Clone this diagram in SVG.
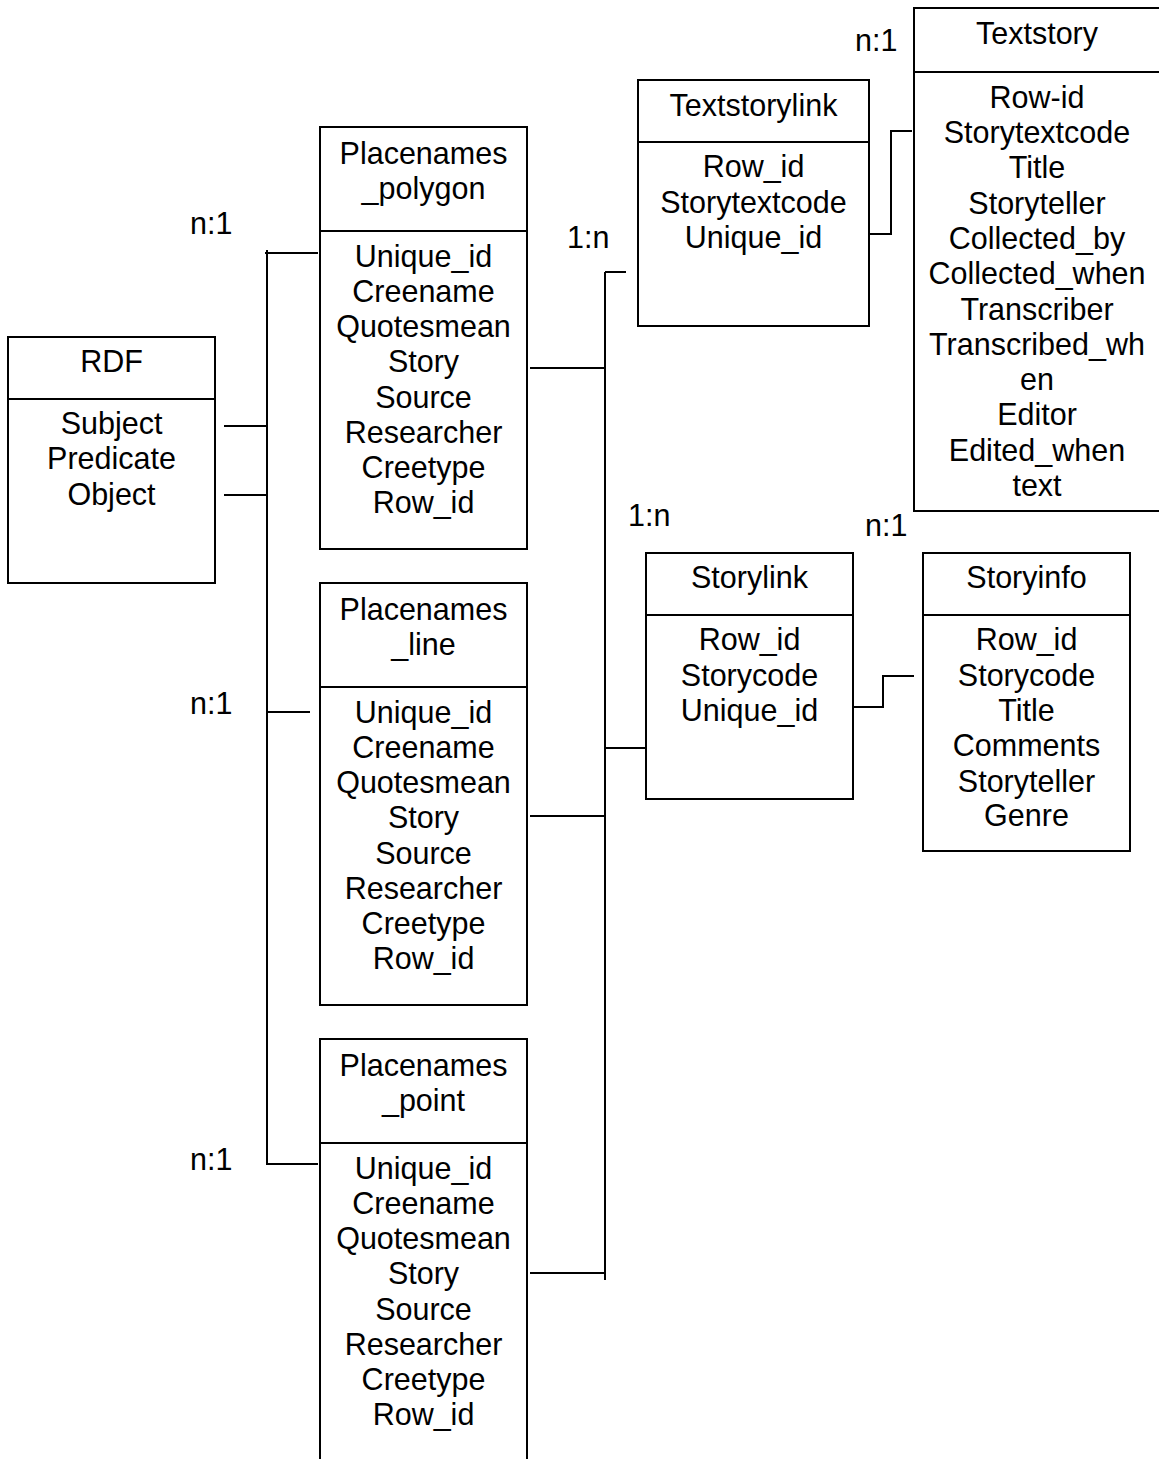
<svg xmlns="http://www.w3.org/2000/svg" width="1159" height="1459" viewBox="0 0 1159 1459">
<style>
.box{fill:#fff;stroke:#000;stroke-width:2}
.div{stroke:#000;stroke-width:2}
.t{font-family:"Liberation Sans",Arial,sans-serif;font-size:30.5px;fill:#000;text-anchor:middle}
.l{font-family:"Liberation Sans",Arial,sans-serif;font-size:30.5px;fill:#000}
.c{fill:none;stroke:#000;stroke-width:2}
</style>
<rect width="1159" height="1459" fill="#fff"/>
<g id="connectors">
<path class="c" d="M267 250V1165"/>
<path class="c" d="M265 253H318"/>
<path class="c" d="M224 426H267"/>
<path class="c" d="M224 495H267"/>
<path class="c" d="M267 712H310"/>
<path class="c" d="M267 1164H318"/>
<path class="c" d="M605 272V1280"/>
<path class="c" d="M605 272H626"/>
<path class="c" d="M530 368H605"/>
<path class="c" d="M605 748H647"/>
<path class="c" d="M530 816H605"/>
<path class="c" d="M530 1273H605"/>
<path class="c" d="M869 234H891V131H912"/>
<path class="c" d="M853 707H883V676H914"/>
</g>
<g id="labels">
<text class="l" x="190" y="234">n:1</text>
<text class="l" x="190" y="714">n:1</text>
<text class="l" x="190" y="1170">n:1</text>
<text class="l" x="567" y="248">1:n</text>
<text class="l" x="628" y="526">1:n</text>
<text class="l" x="855" y="51">n:1</text>
<text class="l" x="865" y="536">n:1</text>
</g>
<g id="rdf">
<rect class="box" x="8" y="337" width="207" height="246"/>
<line class="div" x1="8" y1="399" x2="215" y2="399"/>
<text class="t" x="111.5" y="372">RDF</text>
<text class="t" x="111.5" y="434">Subject</text>
<text class="t" x="111.5" y="469">Predicate</text>
<text class="t" x="111.5" y="505">Object</text>
</g>
<g id="placenames_polygon">
<rect class="box" x="320" y="127" width="207" height="422"/>
<line class="div" x1="320" y1="231" x2="527" y2="231"/>
<text class="t" x="423.5" y="164">Placenames</text>
<text class="t" x="423.5" y="199">_polygon</text>
<text class="t" x="423.5" y="267">Unique_id</text>
<text class="t" x="423.5" y="302">Creename</text>
<text class="t" x="423.5" y="337">Quotesmean</text>
<text class="t" x="423.5" y="372">Story</text>
<text class="t" x="423.5" y="408">Source</text>
<text class="t" x="423.5" y="443">Researcher</text>
<text class="t" x="423.5" y="478">Creetype</text>
<text class="t" x="423.5" y="513">Row_id</text>
</g>
<g id="placenames_line">
<rect class="box" x="320" y="583" width="207" height="422"/>
<line class="div" x1="320" y1="687" x2="527" y2="687"/>
<text class="t" x="423.5" y="620">Placenames</text>
<text class="t" x="423.5" y="655">_line</text>
<text class="t" x="423.5" y="723">Unique_id</text>
<text class="t" x="423.5" y="758">Creename</text>
<text class="t" x="423.5" y="793">Quotesmean</text>
<text class="t" x="423.5" y="828">Story</text>
<text class="t" x="423.5" y="864">Source</text>
<text class="t" x="423.5" y="899">Researcher</text>
<text class="t" x="423.5" y="934">Creetype</text>
<text class="t" x="423.5" y="969">Row_id</text>
</g>
<g id="placenames_point">
<rect class="box" x="320" y="1039" width="207" height="440"/>
<line class="div" x1="320" y1="1143" x2="527" y2="1143"/>
<text class="t" x="423.5" y="1076">Placenames</text>
<text class="t" x="423.5" y="1111">_point</text>
<text class="t" x="423.5" y="1179">Unique_id</text>
<text class="t" x="423.5" y="1214">Creename</text>
<text class="t" x="423.5" y="1249">Quotesmean</text>
<text class="t" x="423.5" y="1284">Story</text>
<text class="t" x="423.5" y="1320">Source</text>
<text class="t" x="423.5" y="1355">Researcher</text>
<text class="t" x="423.5" y="1390">Creetype</text>
<text class="t" x="423.5" y="1425">Row_id</text>
</g>
<g id="textstorylink">
<rect class="box" x="638" y="80" width="231" height="246"/>
<line class="div" x1="638" y1="142" x2="869" y2="142"/>
<text class="t" x="753.5" y="116">Textstorylink</text>
<text class="t" x="753.5" y="177">Row_id</text>
<text class="t" x="753.5" y="213">Storytextcode</text>
<text class="t" x="753.5" y="248">Unique_id</text>
</g>
<g id="textstory">
<rect class="box" x="914" y="8" width="260" height="503"/>
<line class="div" x1="914" y1="72" x2="1174" y2="72"/>
<text class="t" x="1037" y="44">Textstory</text>
<text class="t" x="1037" y="108">Row-id</text>
<text class="t" x="1037" y="143">Storytextcode</text>
<text class="t" x="1037" y="178">Title</text>
<text class="t" x="1037" y="214">Storyteller</text>
<text class="t" x="1037" y="249">Collected_by</text>
<text class="t" x="1037" y="284">Collected_when</text>
<text class="t" x="1037" y="320">Transcriber</text>
<text class="t" x="1037" y="355">Transcribed_wh</text>
<text class="t" x="1037" y="390">en</text>
<text class="t" x="1037" y="425">Editor</text>
<text class="t" x="1037" y="461">Edited_when</text>
<text class="t" x="1037" y="496">text</text>
</g>
<g id="storylink">
<rect class="box" x="646" y="553" width="207" height="246"/>
<line class="div" x1="646" y1="615" x2="853" y2="615"/>
<text class="t" x="749.5" y="588">Storylink</text>
<text class="t" x="749.5" y="650">Row_id</text>
<text class="t" x="749.5" y="686">Storycode</text>
<text class="t" x="749.5" y="721">Unique_id</text>
</g>
<g id="storyinfo">
<rect class="box" x="923" y="553" width="207" height="298"/>
<line class="div" x1="923" y1="615" x2="1130" y2="615"/>
<text class="t" x="1026.5" y="588">Storyinfo</text>
<text class="t" x="1026.5" y="650">Row_id</text>
<text class="t" x="1026.5" y="686">Storycode</text>
<text class="t" x="1026.5" y="721">Title</text>
<text class="t" x="1026.5" y="756">Comments</text>
<text class="t" x="1026.5" y="792">Storyteller</text>
<text class="t" x="1026.5" y="826">Genre</text>
</g>
</svg>
